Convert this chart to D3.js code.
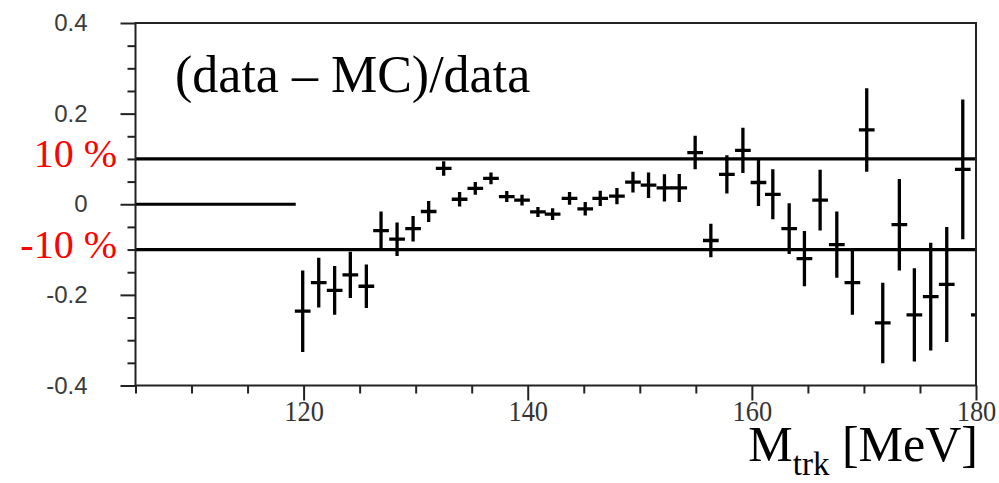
<!DOCTYPE html>
<html>
<head>
<meta charset="utf-8">
<script src="https://cdn.jsdelivr.net/npm/d3@7"></script>
<style>
  html, body { margin: 0; padding: 0; background: #fff; }
  svg { display: block; }
</style>
</head>
<body>
<svg id="chart" width="999" height="483"></svg>
<script>
// Bin centres of the track mass, MeV
const mass = [119.92, 121.35, 122.77, 124.17, 125.60, 126.91, 128.34, 129.77, 131.16, 132.50,
              133.92, 135.32, 136.72, 138.13, 139.49, 140.91, 142.22, 143.73, 145.13, 146.47,
              147.96, 149.39, 150.78, 152.20, 153.52, 154.94, 156.34, 157.77, 159.20, 160.59,
              161.87, 163.33, 164.69, 166.09, 167.58, 168.97, 170.25, 171.68, 173.16, 174.50,
              175.96, 177.39, 178.82, 180.25];
// (data - MC)/data in each bin
const ratio = [-0.236, -0.173, -0.190, -0.156, -0.181, -0.058, -0.077, -0.054, -0.016, 0.079,
                0.011,  0.035,  0.057,  0.017,  0.009, -0.017, -0.022,  0.013, -0.010, 0.013,
                0.018,  0.049,  0.042,  0.036,  0.036,  0.114, -0.080,  0.066,  0.119, 0.048,
                0.022, -0.054, -0.120,  0.009, -0.089, -0.173,  0.164, -0.262, -0.045, -0.244,
               -0.204, -0.177,  0.077, -0.244];
// statistical uncertainty of each bin
const ratioErr = [0.090, 0.055, 0.054, 0.051, 0.048, 0.042, 0.037, 0.028, 0.023, 0.016,
                  0.016, 0.014, 0.013, 0.012, 0.012, 0.011, 0.013, 0.014, 0.015, 0.017,
                  0.018, 0.023, 0.028, 0.030, 0.031, 0.037, 0.037, 0.042, 0.050, 0.052,
                  0.055, 0.056, 0.061, 0.067, 0.073, 0.071, 0.092, 0.089, 0.101, 0.103,
                  0.119, 0.127, 0.154, 0.150];
const binHalfWidth = 0.70;           // MeV
const emptyRange = [105, 119.3];     // bins without entries, drawn at zero
const bandLevels = [0.1, -0.1];
const bandLabels = ["10 %", "-10 %"];
const xMajorTicks = [120, 140, 160, 180];
const xMinorTicks = [105, 110, 115, 125, 130, 135, 145, 150, 155, 165, 170, 175];
const yMajorTicks = [-0.4, -0.2, 0, 0.2, 0.4];
const yTickLabels = ["-0.4", "-0.2", "0", "0.2", "0.4"];
const yMinorTicks = [-0.35, -0.3, -0.25, -0.15, -0.1, -0.05, 0.05, 0.1, 0.15, 0.25, 0.3, 0.35];

const svg = d3.select("#chart");
const plotLeft = 135.5, plotRight = 976, plotTop = 23, plotBottom = 385.5;

const x = d3.scaleLinear().domain([105, 180]).range([plotLeft, plotRight]);
const y = d3.scaleLinear().domain([-0.4, 0.4]).range([plotBottom, plotTop]);

const points = mass.map((m, i) => ({ m, v: ratio[i], e: ratioErr[i] }));

svg.append("defs").append("clipPath").attr("id", "plot-clip")
  .append("rect").attr("x", plotLeft).attr("y", plotTop)
  .attr("width", plotRight - plotLeft).attr("height", plotBottom - plotTop);

// ±10 % reference lines
svg.append("g").selectAll("line").data(bandLevels).join("line")
  .attr("x1", plotLeft).attr("x2", plotRight)
  .attr("y1", d => y(d)).attr("y2", d => y(d))
  .attr("stroke", "#000").attr("stroke-width", 3.2);

// empty bins at zero
svg.append("line")
  .attr("x1", x(emptyRange[0])).attr("x2", x(emptyRange[1]))
  .attr("y1", y(0)).attr("y2", y(0))
  .attr("stroke", "#000").attr("stroke-width", 3.2);

// error crosses
const marks = svg.append("g").attr("clip-path", "url(#plot-clip)")
  .attr("stroke", "#000").attr("stroke-width", 3.3);
marks.selectAll("line.h").data(points).join("line").attr("class", "h")
  .attr("x1", d => x(d.m - binHalfWidth)).attr("x2", d => x(d.m + binHalfWidth))
  .attr("y1", d => y(d.v)).attr("y2", d => y(d.v));
marks.selectAll("line.v").data(points).join("line").attr("class", "v")
  .attr("x1", d => x(d.m)).attr("x2", d => x(d.m))
  .attr("y1", d => y(d.v + d.e)).attr("y2", d => y(d.v - d.e));

// axes
const axisColor = "#222";
function styleAxis(g) {
  g.select(".domain").remove();
  g.selectAll(".tick line").attr("stroke", axisColor).attr("stroke-width", 2);
}

svg.append("g").attr("transform", `translate(0,${plotBottom})`)
  .call(d3.axisBottom(x).tickValues(xMinorTicks).tickSize(8).tickFormat(""))
  .call(styleAxis);
const xMajor = svg.append("g").attr("transform", `translate(0,${plotBottom})`)
  .call(d3.axisBottom(x).tickValues(xMajorTicks).tickSize(15).tickFormat(d3.format("d")))
  .call(styleAxis);
xMajor.selectAll(".tick text")
  .attr("y", 36).attr("dy", null)
  .attr("transform", "scale(0.88,1)")
  .attr("font-family", "'Liberation Serif', 'Times New Roman', serif")
  .attr("font-size", 30).attr("fill", "#333");

svg.append("g").attr("transform", `translate(${plotLeft},0)`)
  .call(d3.axisLeft(y).tickValues(yMinorTicks).tickSize(8).tickFormat(""))
  .call(styleAxis);
const yMajor = svg.append("g").attr("transform", `translate(${plotLeft},0)`)
  .call(d3.axisLeft(y).tickValues(yMajorTicks).tickSize(15).tickPadding(33)
        .tickFormat((d, i) => yTickLabels[i]))
  .call(styleAxis);
yMajor.selectAll(".tick text")
  .attr("font-family", "'Liberation Sans', Arial, sans-serif")
  .attr("font-size", 24).attr("fill", "#3a3a3a");

// frame
svg.append("rect")
  .attr("x", plotLeft).attr("y", plotTop)
  .attr("width", plotRight - plotLeft).attr("height", plotBottom - plotTop)
  .attr("fill", "none").attr("stroke", axisColor).attr("stroke-width", 2);

// ±10 % labels
svg.append("g").selectAll("text").data(bandLevels).join("text")
  .attr("x", 117).attr("y", d => y(d) + 8)
  .attr("text-anchor", "end")
  .attr("font-family", "'Liberation Serif', 'Times New Roman', serif")
  .attr("font-size", 40).attr("fill", "#ff0000")
  .text((d, i) => bandLabels[i]);

// in-plot title
svg.append("text")
  .attr("x", 175).attr("y", 92)
  .attr("font-family", "'Liberation Serif', 'Times New Roman', serif")
  .attr("font-size", 52).attr("fill", "#000")
  .text("(data \u2013 MC)/data");

// x-axis title with subscript
const xt = svg.append("text")
  .attr("x", 978).attr("y", 461).attr("text-anchor", "end")
  .attr("font-family", "'Liberation Serif', 'Times New Roman', serif")
  .attr("font-size", 50).attr("fill", "#000");
xt.append("tspan").text("M");
xt.append("tspan").attr("font-size", 33).attr("dy", 14).text("trk");
xt.append("tspan").attr("dy", -14).text(" [MeV]");
</script>
</body>
</html>
